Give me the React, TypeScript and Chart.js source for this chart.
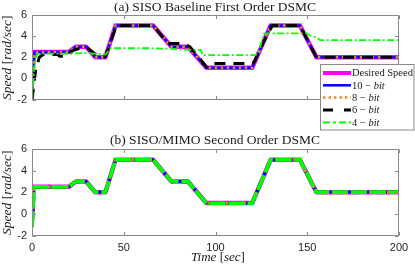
import React, { useEffect, useRef } from "react";
import { Chart, registerables } from "chart.js";

Chart.register(...registerables);

const W = 415;
const H = 270;

// ---------- Panel (a): SISO Baseline First Order DSMC ----------
const desiredTime = [0, 0.4, 20, 24, 29.5, 34.5, 40, 45.5, 66, 76, 85, 95, 120, 130, 146, 155, 200];
const desiredSpeed = [0, 2.5, 2.5, 3, 3, 2, 2, 5, 5, 3, 3, 1, 1, 5, 5, 2, 2];

const a10Time = [0, 1.5, 20, 24, 29.5, 34.5, 40, 45.5, 66, 76, 85, 95, 120, 130, 146, 155, 200];
const a10Speed = [-2, 2.5, 2.5, 3, 3, 2, 2, 5, 5, 3, 3, 1, 1, 5, 5, 2, 2];

const a8Time = [0, 1.5, 20, 24, 29.5, 34.5, 40, 45.5, 66, 76, 85, 95, 120, 130, 146, 155, 200];
const a8Speed = [-2, 2.45, 2.5, 3, 3, 2, 2, 5, 5, 3, 3, 1, 1, 5, 5, 2, 2];

const a6Time = [0, 2, 4, 6, 14, 15, 19, 22, 26, 30, 33, 36, 40, 46, 66, 74, 82, 86, 95, 98, 118, 121, 126, 131, 146, 155, 200];
const a6Speed = [-2, 0.8, 2.0, 2.25, 2.25, 2.1, 2.1, 2.6, 2.85, 2.9, 2.5, 2.1, 2.1, 5, 5, 3.3, 3.3, 3, 1.1, 1.4, 1.4, 1.5, 3.4, 5, 5, 2, 2];

const a4Time = [0, 1.5, 3, 20, 30, 36, 40, 43, 65, 77, 85, 92, 93, 122, 124, 126.5, 150, 152, 155, 157, 200];
const a4Speed = [-2, 1.5, 2.35, 2.35, 2.4, 2.3, 2.25, 2.85, 2.85, 2.8, 2.7, 2.7, 2.2, 2.2, 2.8, 4.26, 4.26, 4.0, 3.9, 3.63, 3.63];

// ---------- Panel (b): SISO/MIMO Second Order DSMC ----------
const bTime = [0, 1.2, 20, 24, 29.5, 34.5, 40, 45.5, 66, 76, 85, 95, 120, 130, 146, 155, 200];
const b10Speed = [-1.2, 2.5, 2.5, 3, 3, 2, 2, 5, 5, 3, 3, 1, 1, 5, 5, 2, 2];
const b8Speed = [-1.2, 2.5, 2.5, 3, 3, 2, 2, 5, 5, 3, 3, 1, 1, 5, 5, 2, 2];
const b6Speed = [-1.2, 2.5, 2.5, 3, 3, 2, 2, 5, 5, 3, 3, 1, 1, 5, 5, 2, 2];
const b4Speed = [-1.2, 2.5, 2.5, 3, 3, 2, 2, 5, 5, 3, 3, 1, 1, 5, 5, 2, 2];

// ---------- axes ----------
const xTicks = [0, 50, 100, 150, 200];
const yTicks = [-2, 0, 2, 4, 6];

const legendLabels = ["Desired Speed", "10", "8", "6", "4"];
const titleA = "(a) SISO Baseline First Order DSMC";
const titleB = "(b) SISO/MIMO Second Order DSMC";

const C_DES = "#ff00ff";
const C_10 = "#0000ff";
const C_8 = "#ec8a2c";
const C_6 = "#000000";
const C_4 = "#00ff00";

const SERIF = "'Liberation Serif', 'Times New Roman', serif";
const SANS = "'Liberation Sans', Arial, sans-serif";

function pts(t: number[], v: number[]) {
  return t.map((x, i) => ({ x, y: v[i] }));
}

type Seg = [string, boolean];

function drawSegs(ctx: CanvasRenderingContext2D, segs: Seg[], size: number, cx: number, cy: number, center: boolean) {
  let total = 0;
  for (const [s, it] of segs) {
    ctx.font = `${it ? "italic " : ""}${size}px ${SERIF}`;
    total += ctx.measureText(s).width;
  }
  let x = center ? cx - total / 2 : cx;
  ctx.textAlign = "left";
  ctx.textBaseline = "middle";
  for (const [s, it] of segs) {
    ctx.font = `${it ? "italic " : ""}${size}px ${SERIF}`;
    ctx.fillText(s, x, cy);
    x += ctx.measureText(s).width;
  }
}

function makeDecor(panel: "a" | "b") {
  return {
    id: "decor" + panel,
    afterDatasetsDraw(chart: any) {
      const ctx: CanvasRenderingContext2D = chart.ctx;
      const { left, right, top, bottom } = chart.chartArea;
      const xs = chart.scales.x;
      const ys = chart.scales.y;
      ctx.save();
      ctx.strokeStyle = "#8a8a8a";
      ctx.lineWidth = 1;
      const L = Math.round(left) + 0.5;
      const R = Math.round(right) - 0.5;
      const T = Math.round(top) + 0.5;
      const B = Math.round(bottom) - 0.5;
      ctx.strokeRect(L, T, R - L, B - T);
      ctx.beginPath();
      for (const v of xTicks) {
        const px = Math.round(xs.getPixelForValue(v)) + 0.5;
        ctx.moveTo(px, B);
        ctx.lineTo(px, B - 3.5);
        ctx.moveTo(px, T);
        ctx.lineTo(px, T + 3.5);
      }
      for (const v of yTicks) {
        const py = Math.round(ys.getPixelForValue(v)) + 0.5;
        ctx.moveTo(L, py);
        ctx.lineTo(L + 3.5, py);
        ctx.moveTo(R, py);
        ctx.lineTo(R - 3.5, py);
      }
      ctx.stroke();
      ctx.restore();
    },
    afterDraw(chart: any) {
      const ctx: CanvasRenderingContext2D = chart.ctx;
      const { top, bottom } = chart.chartArea;
      ctx.save();
      ctx.fillStyle = "#1a1a1a";
      // title
      ctx.font = `13.5px ${SERIF}`;
      ctx.textAlign = "center";
      ctx.textBaseline = "middle";
      ctx.fillText(panel === "a" ? titleA : titleB, 215, panel === "a" ? 7.5 : 140.5);
      // y label
      ctx.save();
      ctx.translate(7, (top + bottom) / 2 + 0.5);
      ctx.rotate(-Math.PI / 2);
      drawSegs(ctx, [["Speed", true], [" ", false], ["[", false], ["rad/sec", true], ["]", false]], 13.5, 0, 0, true);
      ctx.restore();
      if (panel === "b") {
        drawSegs(ctx, [["Time", true], [" ", false], ["[", false], ["sec", true], ["]", false]], 13, 218, 258, true);
      }
      if (panel === "a") {
        // legend
        const bx = 320.5, by = 64.5, bw = 93.5, bh = 65.5;
        ctx.fillStyle = "#ffffff";
        ctx.fillRect(bx, by, bw, bh);
        ctx.strokeStyle = "#8a8a8a";
        ctx.lineWidth = 1;
        ctx.strokeRect(bx, by, bw, bh);
        const rows = [73, 85.3, 97.5, 110, 122.5];
        const styles = [
          { c: C_DES, w: 4, d: [] as number[] },
          { c: C_10, w: 2.5, d: [] as number[] },
          { c: C_8, w: 2.5, d: [2.5, 3] },
          { c: C_6, w: 3, d: [10, 11] },
          { c: C_4, w: 2, d: [7, 3, 3, 3] },
        ];
        rows.forEach((ry, i) => {
          const st = styles[i];
          ctx.beginPath();
          ctx.strokeStyle = st.c;
          ctx.lineWidth = st.w;
          ctx.setLineDash(st.d);
          ctx.moveTo(323, ry);
          ctx.lineTo(351, ry);
          ctx.stroke();
          ctx.setLineDash([]);
          ctx.fillStyle = "#1a1a1a";
          if (i === 0) {
            drawSegs(ctx, [[legendLabels[0], false]], 10.5, 352, ry + 0.5, false);
          } else {
            drawSegs(ctx, [[legendLabels[i] + " \u2212 ", false], ["bit", true]], 10.5, 352, ry + 0.5, false);
          }
        });
      }
      ctx.restore();
    },
  };
}

function makeConfig(panel: "a" | "b"): any {
  const common = { pointRadius: 0, tension: 0, fill: false, borderJoinStyle: "round" };
  const datasets =
    panel === "a"
      ? [
          { ...common, label: "Desired Speed", data: pts(desiredTime, desiredSpeed), borderColor: C_DES, borderWidth: 4.5, order: 5 },
          { ...common, label: "10-bit", data: pts(a10Time, a10Speed), borderColor: C_10, borderWidth: 2.5, order: 4 },
          { ...common, label: "8-bit", data: pts(a8Time, a8Speed), borderColor: C_8, borderWidth: 2.5, borderDash: [2.5, 3.5], order: 3 },
          { ...common, label: "6-bit", data: pts(a6Time, a6Speed), borderColor: C_6, borderWidth: 3, borderDash: [11, 8], order: 2 },
          { ...common, label: "4-bit", data: pts(a4Time, a4Speed), borderColor: C_4, borderWidth: 1.8, borderDash: [7, 2.5, 2, 2.5], order: 1 },
        ]
      : [
          { ...common, label: "Desired Speed", data: pts(desiredTime, desiredSpeed), borderColor: C_DES, borderWidth: 4.5, order: 5 },
          { ...common, label: "10-bit", data: pts(bTime, b10Speed), borderColor: C_10, borderWidth: 3, order: 4 },
          { ...common, label: "8-bit", data: pts(bTime, b8Speed), borderColor: C_8, borderWidth: 3, borderDash: [2.5, 3.5], order: 3 },
          { ...common, label: "6-bit", data: pts(bTime, b6Speed), borderColor: C_6, borderWidth: 3.5, borderDash: [11, 8], order: 2 },
          { ...common, label: "4-bit", data: pts(bTime, b4Speed), borderColor: C_4, borderWidth: 3.8, borderDash: [16, 3], order: 1 },
        ];
  const bottomEdge = panel === "a" ? 99.5 : 235.5;
  return {
    type: "line",
    data: { datasets },
    options: {
      animation: false,
      responsive: false,
      devicePixelRatio: 1,
      events: [],
      layout: { padding: { left: 0, right: 16, top: panel === "a" ? 15 : 149, bottom: 0 } },
      plugins: { legend: { display: false }, title: { display: false }, tooltip: { enabled: false } },
      scales: {
        x: {
          type: "linear",
          min: 0,
          max: 200,
          grid: { display: false, drawTicks: false },
          border: { display: false },
          afterFit: (s: any) => {
            s.height = H - bottomEdge;
          },
          afterBuildTicks: (s: any) => {
            s.ticks = xTicks.map((v) => ({ value: v }));
          },
          ticks: {
            display: panel === "b",
            padding: 6,
            maxRotation: 0,
            color: "#262626",
            font: { family: SANS, size: 11 },
          },
        },
        y: {
          type: "linear",
          min: -2,
          max: 6,
          grid: { display: false, drawTicks: false },
          border: { display: false },
          afterFit: (s: any) => {
            s.width = 32;
          },
          afterBuildTicks: (s: any) => {
            s.ticks = yTicks.map((v) => ({ value: v }));
          },
          ticks: {
            padding: 5,
            color: "#262626",
            font: { family: SANS, size: 11 },
          },
        },
      },
    },
    plugins: [makeDecor(panel)],
  };
}

export default function App() {
  const ref1 = useRef<HTMLCanvasElement>(null);
  const ref2 = useRef<HTMLCanvasElement>(null);
  useEffect(() => {
    const c1 = new Chart(ref1.current!, makeConfig("a"));
    const c2 = new Chart(ref2.current!, makeConfig("b"));
    return () => {
      c1.destroy();
      c2.destroy();
    };
  }, []);
  const cs: React.CSSProperties = { position: "absolute", left: 0, top: 0, width: W, height: H };
  return (
    <div style={{ position: "absolute", left: 0, top: 0, width: W, height: H, background: "#ffffff" }}>
      <canvas ref={ref2} width={W} height={H} style={cs} />
      <canvas ref={ref1} width={W} height={H} style={cs} />
    </div>
  );
}
